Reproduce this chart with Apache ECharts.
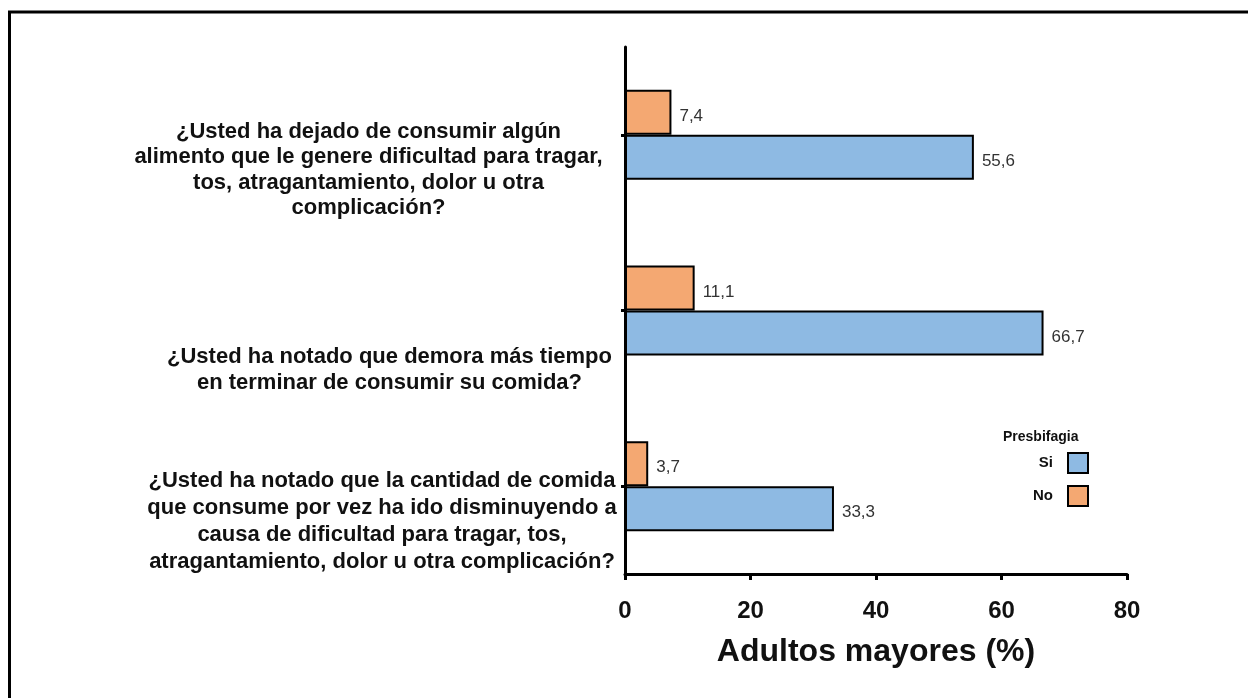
<!DOCTYPE html>
<html>
<head>
<meta charset="utf-8">
<script src="https://cdn.jsdelivr.net/npm/echarts@6/dist/echarts.min.js"></script>
<style>
html,body{margin:0;padding:0;background:#fff;}
#c{width:1248px;height:698px;}
</style>
</head>
<body>
<div id="c"></div>
<script>
const categories = [
  "¿Usted ha dejado de consumir algún\nalimento que le genere dificultad para tragar,\ntos, atragantamiento, dolor u otra\ncomplicación?",
  "¿Usted ha notado que demora más tiempo\nen terminar de consumir su comida?",
  "¿Usted ha notado que la cantidad de comida\nque consume por vez ha ido disminuyendo a\ncausa de dificultad para tragar, tos,\natragantamiento, dolor u otra complicación?"
];
const siValues = [55.6, 66.7, 33.3];
const noValues = [7.4, 11.1, 3.7];
const xTicks = [0, 20, 40, 60, 80];
const legendTitle = "Presbifagia";
const axisTitle = "Adultos mayores (%)";

const FONT = "'Liberation Sans', Arial, sans-serif";
const LABEL_FONT_SIZE = 22;
// label layout tweaks (style only): extra right inset and downward shift per label
const labelRightInset = [14, 5, 0];
const labelDownShift = [35, 59, 35];
const labelLineHeight = [25.5, 26, 27];

const cv = document.createElement('canvas').getContext('2d');
cv.font = 'bold ' + LABEL_FONT_SIZE + 'px ' + FONT;
const rich = {};
categories.forEach((c, i) => {
  const w = Math.max(...c.split('\n').map(l => cv.measureText(l).width));
  rich['c' + i] = {
    width: Math.ceil(w) + 2 * labelRightInset[i], align: 'center', fontSize: LABEL_FONT_SIZE,
    fontWeight: 'bold', fontFamily: FONT, color: '#111', lineHeight: labelLineHeight[i]
  };
  rich['s' + i] = {lineHeight: 2 * labelDownShift[i], height: 2 * labelDownShift[i], fontSize: 1};
});

const chart = echarts.init(document.getElementById('c'), null, {renderer: 'canvas'});
const fmt = v => String(v).replace('.', ',');

chart.setOption({
  backgroundColor: '#fff',
  animation: false,
  grid: {left: 625, right: 121, top: 47, bottom: 124, containLabel: false},
  xAxis: {
    type: 'value', min: xTicks[0], max: xTicks[xTicks.length - 1], interval: 20,
    splitLine: {show: false},
    axisLine: {show: true, lineStyle: {color: '#000', width: 3}},
    axisTick: {show: true, length: 6, lineStyle: {color: '#000', width: 3}},
    axisLabel: {fontSize: 24, fontWeight: 'bold', color: '#111', fontFamily: FONT, margin: 25},
    name: axisTitle, nameLocation: 'middle', nameGap: 62,
    nameTextStyle: {fontSize: 32, fontWeight: 'bold', color: '#111', fontFamily: FONT}
  },
  yAxis: {
    type: 'category', data: categories, inverse: true,
    axisLine: {show: true, lineStyle: {color: '#000', width: 3}},
    axisTick: {show: true, alignWithLabel: true, length: 4, lineStyle: {color: '#000', width: 3}},
    axisLabel: {
      margin: 8, align: 'right',
      formatter: (v, i) => '{s' + i + '| }\n{c' + i + '|' + v + '}',
      rich: rich
    }
  },
  legend: {
    data: ['Si', 'No'], orient: 'vertical', align: 'right', icon: 'rect',
    right: 154, top: 447, itemWidth: 20, itemHeight: 20, itemGap: 11,
    textStyle: {fontSize: 15, fontWeight: 'bold', color: '#111', fontFamily: FONT, padding: [0, 10, 0, 0]},
    itemStyle: {borderColor: '#000', borderWidth: 2}
  },
  graphic: [
    {type: 'line', shape: {x1: 8, y1: 12, x2: 1248, y2: 12}, style: {stroke: '#000', lineWidth: 3}},
    {type: 'line', shape: {x1: 9.5, y1: 11, x2: 9.5, y2: 698}, style: {stroke: '#000', lineWidth: 3}},
    {type: 'text', left: 1003, top: 430, style: {text: legendTitle, font: 'bold 14px ' + FONT, fill: '#111'}}
  ],
  series: [
    {
      name: 'No', type: 'bar', data: noValues, barWidth: 45, barGap: '0%',
      itemStyle: {color: '#F4A872', borderColor: '#000', borderWidth: 2},
      label: {show: true, position: 'right', distance: 8, offset: [0, 4], formatter: p => fmt(p.value),
        fontSize: 17, color: '#333', fontFamily: FONT}
    },
    {
      name: 'Si', type: 'bar', data: siValues, barWidth: 45, barGap: '0%',
      itemStyle: {color: '#8EBAE3', borderColor: '#000', borderWidth: 2},
      label: {show: true, position: 'right', distance: 8, offset: [0, 4], formatter: p => fmt(p.value),
        fontSize: 17, color: '#333', fontFamily: FONT}
    }
  ]
});
</script>
</body>
</html>
